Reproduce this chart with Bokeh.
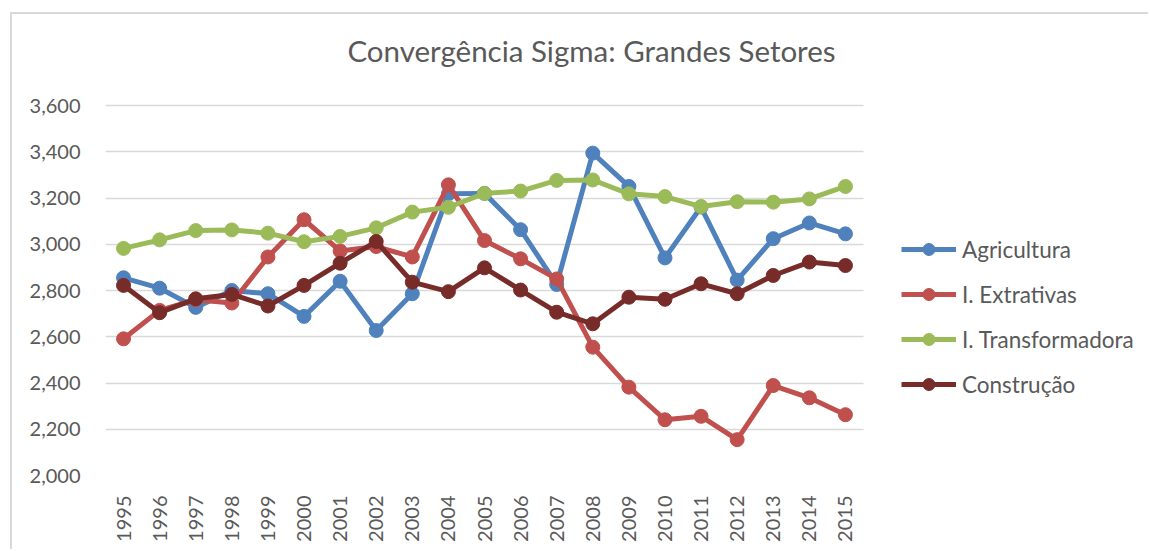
from bokeh.plotting import figure
from bokeh.models import (Legend, LegendItem, NumeralTickFormatter, Range1d, FixedTicker,
                          BoxAnnotation, Label)
from bokeh.embed import file_html
from bokeh.resources import INLINE
import math

years = [str(y) for y in range(1995, 2016)]
agricultura = [2855, 2810, 2727, 2800, 2786, 2688, 2840, 2627, 2786, 3218, 3220,
               3063, 2826, 3394, 3250, 2941, 3161, 2845, 3024, 3092, 3045]
extrativas = [2591, 2714, 2760, 2746, 2945, 3106, 2971, 2990, 2945, 3257, 3016,
              2937, 2850, 2555, 2382, 2241, 2256, 2155, 2389, 2336, 2263]
transformadora = [2982, 3019, 3059, 3062, 3048, 3011, 3034, 3071, 3139, 3160, 3220,
                  3230, 3276, 3278, 3218, 3206, 3163, 3184, 3182, 3196, 3250]
construcao = [2822, 2704, 2764, 2783, 2733, 2822, 2918, 3012, 2836, 2795, 2898,
              2802, 2706, 2656, 2771, 2762, 2829, 2786, 2865, 2923, 2908]
y_ticks = [2000, 2200, 2400, 2600, 2800, 3000, 3200, 3400, 3600]
title_text = "Convergência Sigma: Grandes Setores"

series = [
    ("Agricultura", agricultura, "#4F81BD"),
    ("I. Extrativas", extrativas, "#C0504D"),
    ("I. Transformadora", transformadora, "#9BBB59"),
    ("Construção", construcao, "#772C2A"),
]

FONT = "Lato"
TXT = "#595959"

x_num = [int(y) for y in years]
x0 = x_num[0] - 0.5
x_last = x_num[-1] + 0.5
px_per_year = 758 / len(years)
x_end = x0 + 1045 / px_per_year
px_per_unit = 370 / (y_ticks[-1] - y_ticks[0])
y_end = y_ticks[-1] + 91 / px_per_unit

p = figure(x_range=Range1d(x0, x_end), y_range=Range1d(y_ticks[0], y_end),
           width=1138, height=537, output_backend="svg", toolbar_location=None,
           min_border_left=93, min_border_top=0, min_border_bottom=76,
           min_border_right=0)
p.styles = {"margin-left": "10px", "margin-top": "12px",
            "border-left": "2px solid #d9d9d9", "border-top": "2px solid #d9d9d9"}

p.outline_line_color = None
p.xgrid.grid_line_color = None
p.ygrid.grid_line_color = "#D9D9D9"
p.ygrid.grid_line_width = 1.5

p.yaxis.ticker = FixedTicker(ticks=y_ticks)
p.yaxis.formatter = NumeralTickFormatter(format="0,0")
p.xaxis.ticker = FixedTicker(ticks=x_num)
p.xaxis.major_label_overrides = {x: s for x, s in zip(x_num, years)}
for ax in (p.xaxis[0], p.yaxis[0]):
    ax.axis_line_color = None
    ax.major_tick_line_color = None
    ax.minor_tick_line_color = None
    ax.major_label_text_font = FONT
    ax.major_label_text_font_size = "20px"
    ax.major_label_text_color = TXT
p.yaxis.major_label_standoff = 19
p.xaxis.major_label_orientation = math.pi / 2
p.xaxis.major_label_standoff = 14

# blank the area right of the plot so grid lines stop at the last category
p.add_layout(BoxAnnotation(left=x_last, fill_color="white", fill_alpha=1,
                           line_color=None, level="glyph"))

items = []
for name, vals, col in series:
    r1 = p.line(x_num, vals, line_color=col, line_width=5)
    r2 = p.scatter(x_num, vals, marker="circle", size=14, fill_color=col, line_color=col)
    items.append(LegendItem(label=name, renderers=[r1, r2]))

title_x = x0 + (591 - 105) / px_per_year
title_y = y_ticks[-1] + (105 - 49.5) / px_per_unit
p.add_layout(Label(x=title_x, y=title_y, text=title_text, text_align="center",
                   text_baseline="alphabetic", text_font=FONT, text_font_size="29.5px",
                   text_color=TXT))

legend = Legend(items=items, location=(796, 76), border_line_color=None,
                background_fill_alpha=0, label_text_font=FONT, label_text_font_size="22.5px",
                label_text_color=TXT, glyph_width=55, glyph_height=30, spacing=15,
                margin=0, padding=10, label_standoff=6)
p.add_layout(legend)

open("out.html", "w").write(file_html(p, INLINE))
